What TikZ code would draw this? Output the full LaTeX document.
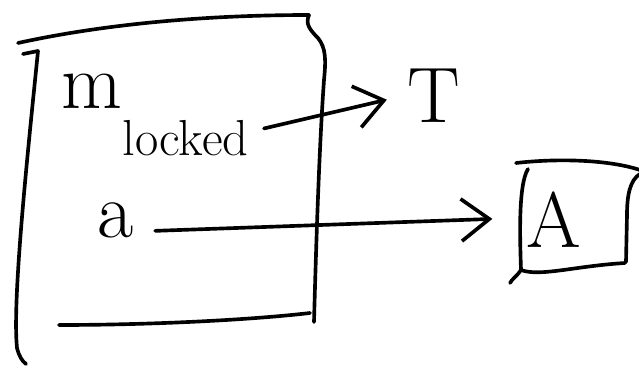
\documentclass[tikz,border=0pt]{standalone}
\usepackage{tikz}
\usetikzlibrary{arrows.meta,calc}

\begin{document}
\begin{tikzpicture}[
    x=0.025cm, y=-0.025cm,
    font=\fontsize{56}{60}\selectfont,
    pen/.style={line width=2.6pt, line cap=round, line join=round},
    lbl/.style={inner sep=1pt, anchor=base west},
    ar/.style={pen, -{Straight Barb[length=20pt, width=30pt]}}
  ]
\useasboundingbox (0,0) rectangle (639,368);
% big box, drawn by hand
\draw[pen] (18,43) .. controls (100,25) and (200,15) .. (309,15);
\draw[pen] (309,15) .. controls (305,24) and (310,30) .. (318,38)
           .. controls (326,48) and (326,60) .. (324,80)
           .. controls (319,150) and (316,250) .. (314,322);
\draw[pen] (23,54) -- (38,51)
           .. controls (28,150) and (12,300) .. (17,348)
           .. controls (19,356) and (22,361) .. (26,364);
\draw[pen] (59,325) .. controls (150,325) and (250,320) .. (310,313);
% small box
\draw[pen] (516,163) .. controls (560,158) and (610,160) .. (640,170);
\draw[pen] (528,169) .. controls (518,185) and (520,240) .. (521,270)
           .. controls (518,275) and (512,279) .. (510,283);
\draw[pen] (521,270) .. controls (540,277) and (575,266) .. (625,263);
\draw[pen] (640,174) .. controls (630,180) and (627,195) .. (627,215)
           -- (626,262);
\node[minimum width=3cm, minimum height=2.6cm] (boxA) at (578,218) {};
% labels
\node[lbl] (mlk) at (60,108) {m\raisebox{-0.6em}{\fontsize{36}{38}\selectfont locked}};
\node[lbl] (T)   at (406,122) {T};
\node[lbl] (a)   at (96,237)  {a};
\node[lbl] (A)   at (525,247) {A};
% arrows
\draw[ar, shorten <=10pt, shorten >=14pt] ($(mlk.east)!0.4!(mlk.south east)$) -- (T.west);
\draw[ar, shorten <=14pt, shorten >=18pt] ($(a.east)!0.6!(a.south east)$) -- (boxA.west);
\end{tikzpicture}
\end{document}
